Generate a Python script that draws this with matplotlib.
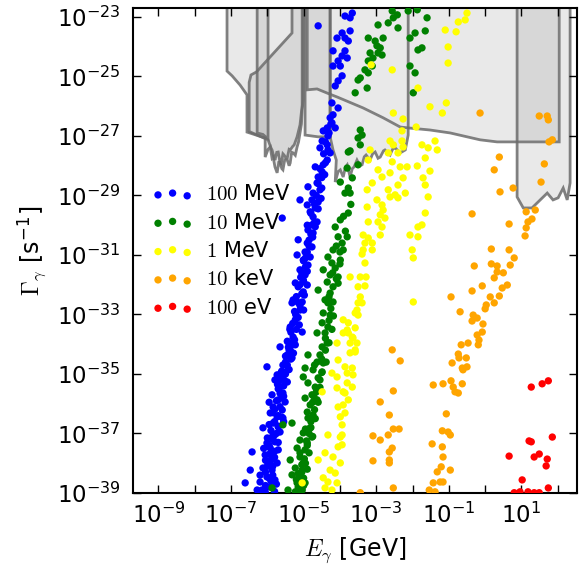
import numpy as np
import matplotlib
matplotlib.use("Agg")
import matplotlib.pyplot as plt
from matplotlib.patches import Polygon

plt.rcParams['mathtext.fontset'] = 'cm'
plt.rcParams['font.family'] = 'DejaVu Sans'

# all values are log10 (E in GeV, Gamma in 1/s)
blue_x = [-4.60, -3.86, -3.66, -3.72, -3.94, -3.72, -4.08, -3.86, -3.77, -4.19, -3.86, -3.94, -3.80, -4.05,
          -4.19, -3.99, -3.94, -4.05, -4.13, -4.22, -4.05, -4.19, -4.27, -4.22, -4.35, -4.13, -4.46, -4.33,
          -4.49, -4.35, -4.55, -4.33,
          -4.27, -4.35, -4.46, -4.68, -4.49, -4.60, -4.88, -4.63, -4.55, -4.74, -5.10, -4.77, -4.60, -4.90,
          -4.68, -4.82, -5.59, -4.74, -4.63, -4.77, -4.88, -4.74, -5.15, -4.90, -4.77, -4.96, -5.18, -4.82,
          -5.01, -4.88, -5.10, -4.96, -5.23, -5.01, -5.15, -4.90, -5.01, -5.29, -5.04,
          -5.32, -5.10, -5.23, -5.37, -5.04, -5.29, -5.43, -5.23, -5.65, -5.37, -5.45, -5.32, -6.01, -5.57,
          -5.43, -5.73, -5.57, -5.45, -5.79, -5.65, -5.87, -5.57, -5.70, -5.51, -5.84, -5.59, -5.92, -5.73,
          -5.57, -6.12, -5.84, -5.70, -5.65, -5.87, -6.01, -5.79, -5.92, -6.42, -5.70, -6.06, -5.84, -5.98,
          -5.73, -6.12, -5.87, -6.47, -6.01, -5.79, -6.20, -6.61, -5.92, -6.28, -6.06,
          -5.95, -5.85, -6.00, -5.90, -5.80, -5.95, -5.85, -5.75, -5.90, -5.80, -5.70, -5.85, -5.65, -5.75,
          -5.60, -5.70, -5.55, -5.65, -5.50, -5.60, -5.45, -5.35, -5.50, -5.40, -5.30, -5.45, -5.35, -5.20,
          -5.30, -5.15, -5.25, -5.10, -5.20, -5.05, -5.10, -5.00, -5.05, -4.95, -5.00, -4.90, -4.85, -4.80,
          -4.90, -4.70, -4.80, -4.70, -4.65, -4.60, -4.50, -4.55, -4.40, -4.45, -4.40, -4.30, -4.25, -6.05,
          -5.75, -6.15, -5.80, -6.10, -5.55, -5.95,
          -6.05, -5.90, -6.20, -5.85, -6.05, -5.80, -5.95, -6.00, -5.70, -5.80, -5.95, -5.70, -5.60, -5.80,
          -5.65, -5.55, -5.72, -5.50, -5.62, -5.40, -5.50, -5.28, -5.42, -5.25, -5.38, -5.12, -5.22, -5.00,
          -5.15, -4.98, -5.08, -4.90, -4.95, -4.85, -4.75, -4.68, -4.60, -4.52, -4.50, -4.42]
blue_y = [-23.30, -22.97, -22.87, -23.03, -23.54, -23.47, -23.71, -23.71, -23.81, -24.14, -24.14, -24.31,
          -24.38, -24.48, -24.65, -24.65, -24.98, -25.15, -25.32, -25.89, -26.06, -26.29, -26.39, -26.56,
          -26.73, -26.73, -26.83, -27.00, -27.17, -27.30, -27.40, -27.47,
          -27.57, -27.81, -27.97, -28.04, -28.21, -28.38, -28.71, -28.58, -28.81, -28.92, -29.15, -29.15,
          -29.22, -29.32, -29.42, -29.55, -29.76, -29.72, -29.89, -29.99, -30.16, -30.26, -30.49, -30.60,
          -30.73, -30.90, -31.00, -31.07, -31.17, -31.34, -31.50, -31.67, -31.94, -31.84, -32.07, -32.01,
          -32.24, -32.51, -32.58,
          -32.61, -32.85, -33.18, -33.42, -33.59, -33.76, -33.92, -34.02, -34.09, -34.19, -34.36, -34.46,
          -34.76, -34.70, -34.86, -35.03, -35.10, -35.27, -35.20, -35.44, -35.70, -35.64, -35.87, -35.94,
          -36.11, -36.21, -36.31, -36.44, -36.48, -36.81, -36.65, -36.78, -36.95, -37.12, -37.32, -37.28,
          -37.49, -37.62, -37.55, -37.72, -37.79, -37.99, -37.99, -38.16, -38.23, -38.23, -38.46, -38.56,
          -38.63, -38.66, -38.80, -38.90, -38.96,
          -38.50, -38.40, -38.10, -37.90, -37.60, -37.40, -37.20, -37.00, -36.90, -36.60, -36.40, -36.30,
          -36.10, -35.90, -35.80, -35.50, -35.40, -35.20, -35.00, -34.90, -34.70, -34.50, -34.40, -34.20,
          -34.00, -33.90, -33.60, -33.50, -33.30, -33.10, -32.90, -32.70, -32.40, -32.30, -32.00, -31.90,
          -31.60, -31.40, -31.20, -30.90, -30.50, -30.30, -30.00, -29.90, -29.60, -29.30, -29.00, -28.60,
          -28.40, -28.10, -27.90, -27.60, -27.20, -26.90, -26.60, -38.75, -38.70, -38.90, -38.95, -37.50,
          -36.60, -35.95,
          -38.30, -38.60, -38.40, -38.10, -37.90, -37.80, -37.70, -37.15, -37.30, -37.05, -36.70, -36.75,
          -36.45, -36.20, -35.65, -35.75, -35.35, -35.25, -34.95, -34.85, -34.60, -34.30, -34.10, -33.85,
          -33.50, -33.35, -33.00, -32.85, -32.60, -32.35, -31.75, -31.55, -31.10, -30.70, -30.40, -30.05,
          -29.45, -29.10, -28.75, -28.30]

green_x = [-2.56, -2.42, -2.53, -2.67, -2.40, -2.95, -3.22, -3.03, -2.81, -2.98, -2.89, -3.17, -2.95, -3.09,
           -2.84, -3.22, -3.11, -3.31, -3.22, -3.44, -3.50, -3.25, -3.58, -2.12, -1.87, -1.60, -1.93, -1.65,
           -2.07, -1.85, -1.74, -2.07, -1.93, -1.98, -3.44, -3.39, -3.50, -3.44, -3.72,
           -3.77, -3.50, -3.80, -3.99, -3.66, -3.77, -3.86, -3.72, -3.77, -3.99, -4.13, -3.80, -4.05, -3.94,
           -3.91, -4.19, -4.33, -3.99, -4.22, -4.13, -4.46, -4.27, -4.05, -4.35, -4.19, -4.60, -4.27, -4.41,
           -4.19,
           -4.33, -4.46, -4.27, -4.49, -4.33, -4.63, -4.41, -4.35, -4.49, -4.88, -4.55, -4.63, -4.46, -4.96,
           -4.74, -4.49, -4.60, -5.01, -4.88, -4.68, -4.77, -4.96, -4.63, -4.82, -4.90, -4.74, -4.88, -5.57,
           -5.32, -4.82, -5.01, -4.77, -5.10, -4.90, -5.18, -4.96, -5.37, -5.10, -5.01, -5.23, -5.04, -5.32,
           -5.10, -5.18, -4.96, -5.43, -5.23, -5.04, -5.87,
           -5.15, -5.10, -5.00, -5.20, -5.05, -4.95, -5.10, -4.90, -4.85, -4.95, -4.80, -4.70, -4.75, -4.65,
           -4.55, -4.70, -4.50, -4.40, -4.40, -4.30, -4.25, -4.30, -4.10, -4.20, -4.00, -4.10, -3.85, -3.90,
           -3.70,
           -5.00, -5.15, -4.90, -5.05, -4.98, -4.85, -4.92, -4.75, -4.80, -4.68, -4.60, -4.72, -4.55, -4.50,
           -4.38, -4.30, -4.22, -4.18, -4.05, -4.00]
green_y = [-22.80, -22.93, -23.03, -23.20, -23.37, -23.27, -23.71, -23.81, -23.71, -23.97, -24.04, -24.21,
           -24.21, -24.38, -24.28, -24.48, -24.65, -24.78, -24.88, -25.05, -25.12, -25.39, -25.55, -22.80,
           -22.76, -23.03, -23.54, -23.47, -23.71, -24.11, -24.04, -24.65, -24.88, -25.55, -26.80, -26.97,
           -27.07, -27.30, -27.50,
           -27.54, -27.97, -28.08, -28.55, -28.41, -28.75, -28.92, -28.92, -29.59, -29.82, -30.06, -30.39,
           -30.39, -30.60, -30.83, -30.83, -31.07, -31.17, -31.27, -31.44, -31.50, -31.67, -31.74, -31.91,
           -32.07, -32.18, -32.28, -32.51, -32.58,
           -32.61, -32.95, -33.02, -33.28, -33.42, -33.62, -33.62, -33.96, -34.09, -34.36, -34.36, -34.60,
           -34.63, -34.80, -34.86, -34.93, -35.13, -35.10, -35.30, -35.44, -35.70, -35.81, -35.87, -36.04,
           -36.28, -36.38, -36.48, -36.71, -36.65, -36.81, -36.98, -37.12, -37.22, -37.32, -37.49, -37.55,
           -37.89, -37.79, -37.99, -38.16, -38.23, -38.39, -38.46, -38.66, -38.66, -38.90, -38.96, -38.90,
           -38.83,
           -38.80, -38.95, -38.75, -38.55, -38.30, -38.00, -37.65, -37.40, -37.00, -36.85, -36.60, -36.20,
           -35.95, -35.60, -35.20, -34.70, -34.50, -34.20, -33.80, -33.20, -32.80, -32.40, -31.80, -31.60,
           -30.90, -30.70, -30.20, -29.70, -29.30,
           -38.50, -38.35, -38.20, -38.05, -37.85, -37.65, -37.25, -37.10, -36.80, -36.50, -35.95, -35.75,
           -35.45, -34.95, -34.60, -33.95, -33.50, -33.05, -31.95, -31.30]

yellow_x = [-0.50, -0.74, -0.55, -1.10, -0.80, -1.02, -1.02, -2.56, -3.14, -1.85, -1.52, -1.07, -1.18, -2.53,
            -2.26, -1.90, -2.29, -2.62, -2.29, -2.53, -3.17, -1.74, -1.57, -1.38, -1.32,
            -2.26, -2.67, -2.40, -3.22, -2.56, -2.95, -2.34, -2.15, -1.87, -1.65, -2.62, -1.52, -3.11, -2.84,
            -2.26, -1.71, -1.65, -2.67, -2.40, -3.25, -2.62, -2.48, -2.40, -2.20, -1.57, -2.98, -2.84, -3.25,
            -2.81, -2.89, -2.76, -1.65, -2.95, -3.22, -2.84, -1.85, -1.74, -2.89, -3.36, -3.22, -2.07, -1.85,
            -3.31, -3.11, -3.36, -3.11, -3.39, -2.01, -1.98, -3.31, -3.72, -3.44, -3.28, -3.50, -3.31, -3.44,
            -3.39, -1.98, -3.53, -3.50, -3.91, -3.77, -3.58, -3.91, -3.77, -3.64, -3.53, -3.72, -3.58, -3.86,
            -3.66, -3.80, -3.64, -3.66, -3.86, -3.77, -3.91, -3.86, -3.94, -3.94, -3.94,
            -3.50, -3.58, -3.80, -3.66, -4.08, -3.58, -3.72, -4.05, -4.22, -4.08, -3.80, -4.08, -3.91, -4.05,
            -3.99, -4.49, -4.33, -3.99, -4.05, -4.41, -4.19, -4.60, -3.99, -4.27, -4.13, -4.46, -4.33, -4.08,
            -5.04, -4.41, -4.22]
yellow_y = [-22.87, -23.17, -23.10, -23.44, -23.50, -24.01, -24.55, -24.78, -24.61, -25.39, -26.02, -25.89,
            -26.23, -26.23, -26.43, -26.70, -26.83, -27.17, -27.17, -27.30, -27.47, -27.30, -27.40, -27.17,
            -27.47,
            -27.37, -27.57, -27.57, -27.81, -27.87, -28.14, -28.04, -28.04, -28.01, -27.74, -28.24, -28.18,
            -28.58, -28.38, -28.41, -28.41, -28.65, -28.81, -28.65, -28.81, -29.05, -28.98, -29.08, -28.92,
            -29.05, -29.15, -29.32, -29.39, -29.49, -29.65, -29.76, -29.59, -29.89, -29.89, -30.06, -30.06,
            -29.99, -30.33, -30.33, -30.43, -30.33, -30.39, -30.60, -30.60, -30.83, -30.83, -30.97, -30.83,
            -31.10, -31.27, -31.74, -31.74, -31.74, -32.07, -32.04, -32.41, -32.61, -32.58, -32.85, -33.02,
            -33.18, -33.28, -33.45, -33.62, -33.62, -33.79, -33.96, -33.96, -34.26, -34.76, -34.80, -34.97,
            -35.03, -35.44, -35.64, -35.87, -36.04, -36.31, -36.71, -37.05, -37.38,
            -32.61, -32.95, -33.52, -33.76, -33.96, -34.19, -34.29, -34.53, -34.97, -35.10, -35.30, -35.47,
            -35.60, -36.11, -36.44, -35.60, -37.05, -37.12, -37.45, -37.65, -37.79, -37.89, -37.99, -38.23,
            -38.33, -38.49, -38.63, -38.66, -38.66, -38.83, -38.90]

orange_x = [-0.14, 1.49, 1.71, 1.74, 1.76, 1.85, 0.39, 0.25, 1.63, 1.54, 0.41, 0.77, -0.36, 1.13, 1.38, 1.29,
            1.18, 0.66, 1.13, 1.10, 0.17, 0.66, 0.80, -0.30, 0.17, 0.33, 0.69, 0.33, 0.50, 0.25, 0.61, 0.47,
            0.39, -0.08, -0.36, 0.14, 0.03, 0.00, 0.25, -0.94, -0.69, -0.33, -0.22, -0.36, -0.06, -0.08, -0.22,
            -0.17, -0.19, -0.47, -0.66, -0.74, -0.72, -0.52, -0.91, -0.63, -0.50, -0.61, -0.94, -0.63, -1.43,
            -1.16, -0.88, -0.83, -0.74, -1.07, -1.18, -1.02, -0.96, -1.46, -1.18, -1.16, -1.21, -0.96, -1.32,
            -1.24, -1.16, -1.43, -1.54, -1.38,
            -2.56, -2.34, -2.53, -2.89, -2.64, -3.09, -2.67, -2.53, -2.37, -2.89, -2.56, -2.64, -3.09, -2.64,
            -2.64, -2.53, -3.44]
orange_y = [-26.23, -26.33, -26.33, -26.46, -27.20, -27.13, -27.71, -28.14, -27.94, -28.55, -28.88, -28.75,
            -29.62, -29.55, -29.49, -29.79, -29.89, -29.96, -30.09, -30.36, -30.80, -30.83, -31.10, -31.37,
            -31.30, -31.37, -31.34, -31.57, -31.60, -31.77, -32.01, -32.11, -32.38, -32.04, -32.21, -32.41,
            -32.68, -32.81, -32.61, -32.41, -32.91, -33.02, -33.12, -33.22, -33.32, -33.59, -33.69, -33.86,
            -34.02, -33.96, -34.02, -34.33, -34.46, -34.46, -34.63, -34.80, -34.76, -34.86, -35.23, -35.33,
            -35.37, -35.33, -35.44, -35.60, -35.64, -36.34, -36.91, -36.95, -37.05, -37.35, -37.45, -37.79,
            -38.12, -38.23, -38.29, -38.63, -38.63, -38.66, -38.90, -38.96,
            -34.19, -34.56, -35.57, -35.94, -36.38, -37.08, -37.05, -36.85, -36.85, -37.22, -37.49, -37.62,
            -37.92, -37.89, -37.99, -38.83, -38.99]

red_x = [1.27, 1.57, 1.74, 1.21, 1.27, 1.85, 0.66, 1.35, 1.49, 1.71, 1.68, 1.02, 1.74, 0.80, 0.96, 1.18,
         1.35, 1.49]
red_y = [-35.44, -35.33, -35.23, -37.25, -37.28, -37.12, -37.76, -37.79, -37.69, -37.86, -38.09, -38.56,
         -38.83, -38.99, -38.96, -38.96, -38.99, -38.99]

series = [
    (blue_x, blue_y, '#0000ff', r'$100$ MeV'),
    (green_x, green_y, '#008000', r'$10$ MeV'),
    (yellow_x, yellow_y, '#ffff00', r'$1$ MeV'),
    (orange_x, orange_y, '#ffa500', r'$10$ keV'),
    (red_x, red_y, '#ff0000', r'$100$ eV'),
]

# excluded regions (log10 coordinates), TOP lies above the plot
TOP = -22.0
regA_x = [-7.11, -7.11, -6.97, -6.75, -6.56, -6.56, -6.06, -6.06, -5.98, -5.92, -5.87, -5.84, -5.79, -5.73,
          -5.68, -5.65, -5.60, -5.57, -5.52, -5.45, -5.40, -5.37, -5.33, -5.29, -5.23, -5.18, -5.14, -5.10,
          -5.06, -5.04, -5.01, -5.01]
regA_y = [TOP, -24.82, -24.98, -25.29, -25.62, -26.87, -27.07, -27.71, -27.45, -27.37, -27.75, -27.71, -28.04,
          -28.24, -27.85, -27.91, -28.10, -28.14, -27.80, -27.81, -28.00, -27.91, -27.55, -27.57, -27.65,
          -27.37, -27.20, -26.90, -26.60, -26.13, -25.79, TOP]
regB_x = [-5.32, -5.32, -6.30, -6.45, -6.50, -6.50, -5.98, -5.90, -5.87, -5.82, -5.79, -5.74, -5.70, -5.65,
          -5.62, -5.57, -5.54, -5.48, -5.45, -5.40, -5.37, -5.30, -5.26, -5.18, -5.10, -5.04, -5.04]
regB_y = [TOP, -23.54, -24.85, -24.95, -25.20, -26.85, -27.13, -27.40, -27.47, -27.70, -27.81, -27.55, -27.54,
          -27.90, -27.97, -27.60, -27.64, -27.75, -27.74, -27.45, -27.47, -27.35, -27.30, -27.03, -26.63,
          -25.96, TOP]
regC_x = [-6.28, -6.28, -6.12, -5.98, -5.98]
regC_y = [TOP, -26.90, -26.95, -27.10, TOP]
regD_x = [-4.96, -4.96, -4.60, -4.27, -4.27]
regD_y = [TOP, -26.97, -27.03, -27.03, TOP]
jag_x = [-4.27, -4.19, -4.10, -4.13, -4.05, -3.99, -3.91, -3.85, -3.80, -3.72, -3.66, -3.61, -3.53, -3.45,
         -3.39, -3.33, -3.28, -3.17, -3.10, -3.03, -2.95, -2.89, -2.80, -2.76, -2.62, -2.55, -2.48, -2.34,
         -2.20, -2.12]
jag_y = [-27.03, -27.47, -27.81, -28.55, -28.20, -28.14, -28.38, -28.05, -27.97, -28.38, -28.10, -28.04,
         -27.81, -28.00, -27.97, -27.70, -27.64, -27.81, -27.60, -27.54, -27.75, -27.71, -27.50, -27.47,
         -27.64, -27.45, -27.40, -27.57, -27.47, -26.97]
curve_x = [-4.90, -4.63, -4.27, -4.08, -3.36, -2.81, -2.34, -2.12, -1.52, -0.96, -0.14, 0.33, 2.04]
curve_y = [-25.45, -25.42, -25.60, -25.69, -26.06, -26.39, -26.70, -26.73, -26.80, -26.90, -27.13, -27.20,
           -27.20]
regE_x = [0.88, 0.88, 1.05, 1.29, 1.71, 1.87, 2.01, 2.15, 2.26, 2.34, 2.34]
regE_y = [TOP, -29.05, -29.42, -29.42, -28.92, -29.15, -29.08, -28.75, -29.15, -28.58, TOP]

fig = plt.figure(figsize=(5.79, 5.75), dpi=100)
ax = fig.add_axes([133 / 579, 82 / 575, 444 / 579, 485 / 575])
ax.set_xscale('log')
ax.set_yscale('log')

face = (0.5, 0.5, 0.5, 0.17)
edge = (0.42, 0.42, 0.42, 0.85)


def add_region(xs, ys, fill=True, outline=True):
    pts = np.column_stack([10.0 ** np.array(xs), 10.0 ** np.array(ys)])
    ax.add_patch(Polygon(pts, closed=True, facecolor=face if fill else 'none',
                         edgecolor=edge if outline else 'none', lw=2, zorder=1))


add_region(regA_x, regA_y)
add_region(regB_x, regB_y)
add_region(regC_x, regC_y)
add_region(regD_x, regD_y)
# big region bounded below by the smooth curve
add_region([curve_x[0]] + curve_x + [curve_x[-1]], [TOP] + curve_y + [TOP])
# jagged region: outline to the top, filled only below the curve
add_region([jag_x[0]] + jag_x + [jag_x[-1]], [TOP] + jag_y + [TOP], fill=False)
cx = np.array(curve_x)
cy = np.array(curve_y)
m = (cx >= jag_x[0]) & (cx <= jag_x[-1])
add_region(list(jag_x) + list(cx[m][::-1]), list(jag_y) + list(cy[m][::-1]), outline=False)
add_region(regE_x, regE_y)

for xs, ys, col, lab in series:
    ax.scatter(10.0 ** np.array(xs), 10.0 ** np.array(ys), s=28, c=col, edgecolors='none',
               label=lab, zorder=3)

ax.set_xlim(10 ** -9.70, 10 ** 2.53)
ax.set_ylim(1e-39, 10 ** -22.70)

xt = np.arange(-9, 3)
ax.set_xticks(10.0 ** xt)
ax.set_xticklabels([r'$\mathregular{10^{%d}}$' % k if k % 2 else '' for k in xt])
yt = np.arange(-39, -22, 2)
ax.set_yticks(10.0 ** yt)
ax.set_yticklabels([r'$\mathregular{10^{%d}}$' % k for k in yt])
ax.minorticks_off()
ax.tick_params(which='both', direction='in', top=True, right=True, length=6, width=1,
               labelsize=16.5)
ax.tick_params(axis='x', pad=7)
ax.tick_params(axis='y', pad=9)
for s in ax.spines.values():
    s.set_linewidth(1.5)

ax.set_xlabel(r'$E_\gamma$ [GeV]', fontsize=17, labelpad=6)
ax.set_ylabel(r'$\Gamma_\gamma$ [s$^{\mathregular{-1}}$]', fontsize=17, labelpad=6)

ax.legend(scatterpoints=3, frameon=False, fontsize=15, loc='upper left',
          bbox_to_anchor=(0.0, 0.675), labelspacing=0.4, handletextpad=0.6)

fig.savefig('out.png', dpi=100)
